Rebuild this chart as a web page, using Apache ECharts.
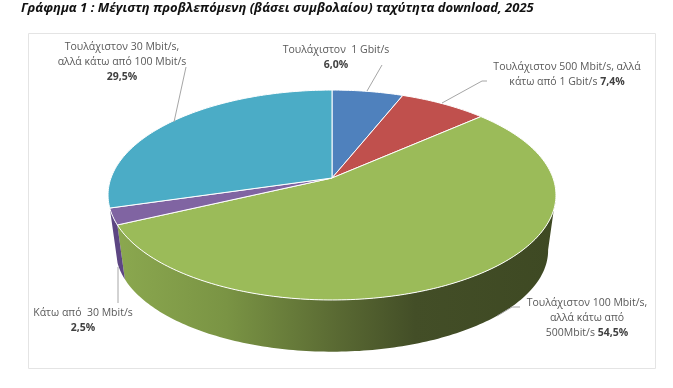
<!DOCTYPE html>
<html>
<head>
<meta charset="utf-8">
<style>
html, body { margin: 0; padding: 0; background: #fff; }
#chart { width: 673px; height: 388px; }
</style>
<script src="https://cdn.jsdelivr.net/npm/echarts@6/dist/echarts.min.js"></script>
</head>
<body>
<div id="chart"></div>
<script>
// slices, clockwise from 12 o'clock
var sliceValues = [6.0, 7.4, 54.5, 2.5, 29.5];
var sliceColors = ['#4f81bd', '#c0504d', '#9bbb59', '#8064a2', '#4bacc6'];
// %v is replaced by the value
var sliceLabels = [
	['Τουλάχιστον  1 Gbit/s', '%v'],
	['Τουλάχιστον 500 Mbit/s, αλλά', 'κάτω από 1 Gbit/s %v'],
	['Τουλάχιστον 100 Mbit/s,', 'αλλά κάτω από', '500Mbit/s %v'],
	['Κάτω από  30 Mbit/s', '%v'],
	['Τουλάχιστον 30 Mbit/s,', 'αλλά κάτω από 100 Mbit/s', '%v']
];
var chartTitle = 'Γράφημα 1 : Μέγιστη προβλεπόμενη (βάσει συμβολαίου) ταχύτητα download, 2025';

var fontName = '"Open Sans"';
var labelColor = '#595959';

// label anchor (centre x, top y) and leader line for each slice
var labelPlaces = [[336, 43], [567, 60], [587, 296], [83, 306], [122, 40]];
var leaderLines = [
	[[382, 65], [367, 91]],
	[[487, 81], [482, 81], [442, 103]],
	[[520, 307], [512, 307], [497, 316]],
	[[118, 303], [118, 267]],
	[[186, 67], [174, 122]]
];

// perspective of the disc: lines through the centre stay straight
var apexX = 332, apexY = 178;
var discW = 221, discH = 102.2, discK = 0.162;
var depth = 56, lowerScale = 0.965;
// part of the rim which faces the viewer, degrees
var frontFrom = 99, frontTo = 261;

var total = sliceValues.reduce(function(a, b) { return a + b; }, 0);

var rimPoint = function(deg, lower) {
	var r = deg * Math.PI / 180;
	var u = Math.sin(r), v = Math.cos(r);
	var d = 1 + discK * v;
	var s = lower ? lowerScale : 1;
	return [
		apexX + s * discW * u / d,
		apexY + (lower ? depth : 0) - s * discH * v / d
	];
};

var sliceRange = function(idx) {
	var start = 0;
	for(var i = 0; i < idx; i++) start += sliceValues[i];
	return [start / total * 360, (start + sliceValues[idx]) / total * 360];
};

var arcPoints = function(from, to, lower) {
	var pts = [];
	var n = Math.max(2, Math.ceil(to - from));
	for(var i = 0; i <= n; i++) {
		pts.push(rimPoint(from + (to - from) * i / n, lower));
	}
	return pts;
};

var renderTop = function(params, api) {
	var rg = sliceRange(params.dataIndex);
	var pts = arcPoints(rg[0], rg[1], false);
	pts.push([apexX, apexY]);
	return {
		type: 'polygon',
		shape: { points: pts },
		style: { fill: sliceColors[params.dataIndex], stroke: '#fff', lineWidth: 1, lineJoin: 'round' }
	};
};

var wallFill = {
	2: new echarts.graphic.LinearGradient(116, 0, 556, 0, [
		{ offset: 0, color: '#8ba84f' },
		{ offset: 0.25, color: '#7a9444' },
		{ offset: 0.5, color: '#5a6a33' },
		{ offset: 0.68, color: '#434e27' },
		{ offset: 1, color: '#3e4923' }
	], true),
	3: '#5d4683'
};

var renderWall = function(params, api) {
	var idx = params.dataIndex;
	var rg = sliceRange(idx);
	var from = Math.max(rg[0], frontFrom), to = Math.min(rg[1], frontTo);
	if(to <= from || !wallFill[idx]) return;
	var pts = arcPoints(from, to, false).concat(arcPoints(from, to, true).reverse());
	return {
		type: 'polygon',
		shape: { points: pts },
		style: { fill: wallFill[idx], stroke: null }
	};
};

var labelText = function(idx) {
	var val = sliceValues[idx].toFixed(1).replace('.', ',') + '%';
	return sliceLabels[idx].map(function(line) {
		if(line == '%v') return '{b|' + val + '}';
		if(line.indexOf('%v') >= 0) return '{n|' + line.replace(' %v', ' ') + '}{b|' + val + '}';
		return '{n|' + line + '}';
	}).join('\n');
};

var graphics = [{
	type: 'rect',
	z: 0,
	shape: { x: 28.5, y: 33.5, width: 627, height: 335 },
	style: { fill: '#fff', stroke: '#e4e4e4', lineWidth: 1 }
}];
leaderLines.forEach(function(pts) {
	graphics.push({
		type: 'polyline',
		z: 10,
		shape: { points: pts },
		style: { fill: null, stroke: '#a6a6a6', lineWidth: 1 }
	});
});
labelPlaces.forEach(function(p, i) {
	graphics.push({
		type: 'text',
		z: 10,
		x: p[0],
		y: p[1],
		style: {
			text: labelText(i),
			align: 'center',
			verticalAlign: 'top',
			rich: {
				n: { fontFamily: fontName, fontSize: 10.5, lineHeight: 15, fill: labelColor },
				b: { fontFamily: fontName, fontSize: 10.5, lineHeight: 15, fontWeight: 'bold', fill: '#404040' }
			}
		}
	});
});

var chart = echarts.init(document.getElementById('chart'));
chart.setOption({
	animation: false,
	backgroundColor: '#fff',
	title: {
		text: chartTitle,
		left: 16,
		top: -3,
		textStyle: { fontFamily: fontName, fontSize: 13, fontWeight: 'bold', fontStyle: 'italic', color: '#111' }
	},
	graphic: graphics,
	series: [{
		type: 'custom',
		name: 'wall',
		coordinateSystem: 'none',
		renderItem: renderWall,
		z: 2,
		silent: true,
		data: sliceValues
	}, {
		type: 'custom',
		name: 'top',
		coordinateSystem: 'none',
		renderItem: renderTop,
		z: 3,
		silent: true,
		data: sliceValues
	}]
});
</script>
</body>
</html>
